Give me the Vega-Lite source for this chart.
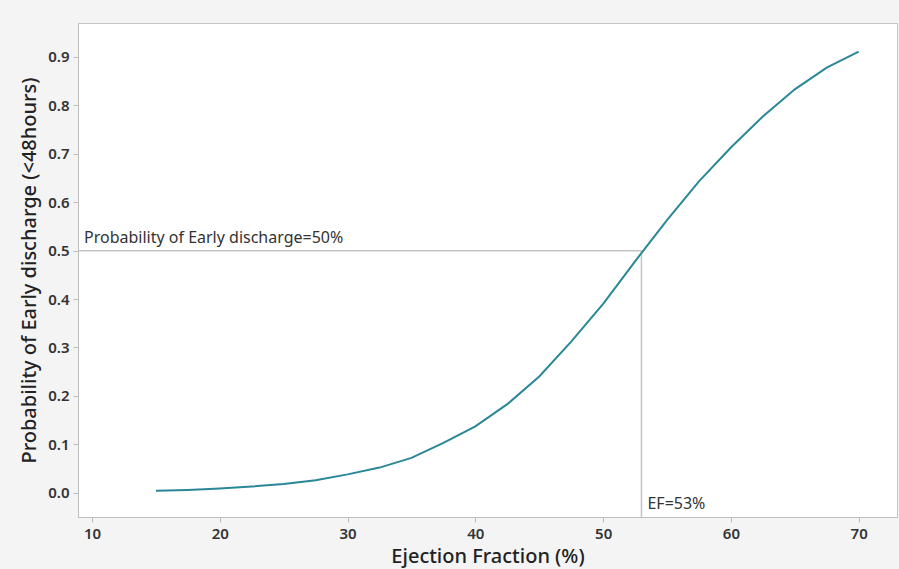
{
  "$schema": "https://vega.github.io/schema/vega-lite/v6.json",
  "width": 819,
  "height": 494,
  "autosize": "none",
  "padding": {"left": 78, "top": 23, "right": 2, "bottom": 52},
  "background": "#f4f4f4",
  "config": {
    "view": {"fill": "white", "stroke": "#c4c4c4", "strokeWidth": 1},
    "font": "Noto Sans",
    "axis": {
      "grid": false,
      "domainColor": "#bdbdbd",
      "tickColor": "#bdbdbd",
      "tickSize": 5,
      "labelFontSize": 15,
      "labelColor": "#333333",
      "labelFontWeight": 600,
      "titleFontSize": 20,
      "titleFontWeight": 500,
      "titleColor": "#222222"
    }
  },
  "datasets": {
    "curve": [
      {"ef": 15, "p": 0.004},
      {"ef": 17.5, "p": 0.006},
      {"ef": 20, "p": 0.009},
      {"ef": 22.5, "p": 0.013},
      {"ef": 25, "p": 0.018},
      {"ef": 27.5, "p": 0.026},
      {"ef": 30, "p": 0.038},
      {"ef": 32.5, "p": 0.052},
      {"ef": 35, "p": 0.072},
      {"ef": 37.5, "p": 0.103},
      {"ef": 40, "p": 0.137},
      {"ef": 42.5, "p": 0.183},
      {"ef": 45, "p": 0.240},
      {"ef": 47.5, "p": 0.312},
      {"ef": 50, "p": 0.390},
      {"ef": 52.5, "p": 0.478},
      {"ef": 55, "p": 0.563},
      {"ef": 57.5, "p": 0.643},
      {"ef": 60, "p": 0.713},
      {"ef": 62.5, "p": 0.777},
      {"ef": 65, "p": 0.833},
      {"ef": 67.5, "p": 0.878},
      {"ef": 70, "p": 0.911}
    ],
    "refs": [
      {"x": 8.9, "x2": 53, "y": 0.5, "y2": 0.5},
      {"x": 53, "x2": 53, "y": -0.05, "y2": 0.5}
    ],
    "labels": [
      {"x": 8.9, "y": 0.5, "label": "Probability of Early discharge=50%"},
      {"x": 53, "y": -0.05, "label": "EF=53%"}
    ]
  },
  "layer": [
    {
      "data": {"name": "refs"},
      "mark": {"type": "rule", "color": "#c4c4c4", "strokeWidth": 1.5},
      "encoding": {
        "x": {"field": "x", "type": "quantitative"},
        "x2": {"field": "x2"},
        "y": {"field": "y", "type": "quantitative"},
        "y2": {"field": "y2"}
      }
    },
    {
      "data": {"name": "curve"},
      "mark": {"type": "line", "color": "#2a8797", "strokeWidth": 2},
      "encoding": {
        "x": {
          "field": "ef", "type": "quantitative",
          "scale": {"domain": [8.9, 73], "nice": false, "zero": false},
          "axis": {"values": [10, 20, 30, 40, 50, 60, 70], "title": "Ejection Fraction (%)", "labelPadding": 4, "titlePadding": 5}
        },
        "y": {
          "field": "p", "type": "quantitative",
          "scale": {"domain": [-0.05, 0.97], "nice": false, "zero": false},
          "axis": {"values": [0, 0.1, 0.2, 0.3, 0.4, 0.5, 0.6, 0.7, 0.8, 0.9], "format": ".1f", "title": "Probability of Early discharge (<48hours)", "labelPadding": 4, "titlePadding": 8}
        }
      }
    },
    {
      "data": {"name": "labels"},
      "mark": {"type": "text", "align": "left", "baseline": "bottom", "dx": 6, "dy": -5, "fontSize": 16, "color": "#333333"},
      "encoding": {
        "x": {"field": "x", "type": "quantitative"},
        "y": {"field": "y", "type": "quantitative"},
        "text": {"field": "label"}
      }
    }
  ]
}
